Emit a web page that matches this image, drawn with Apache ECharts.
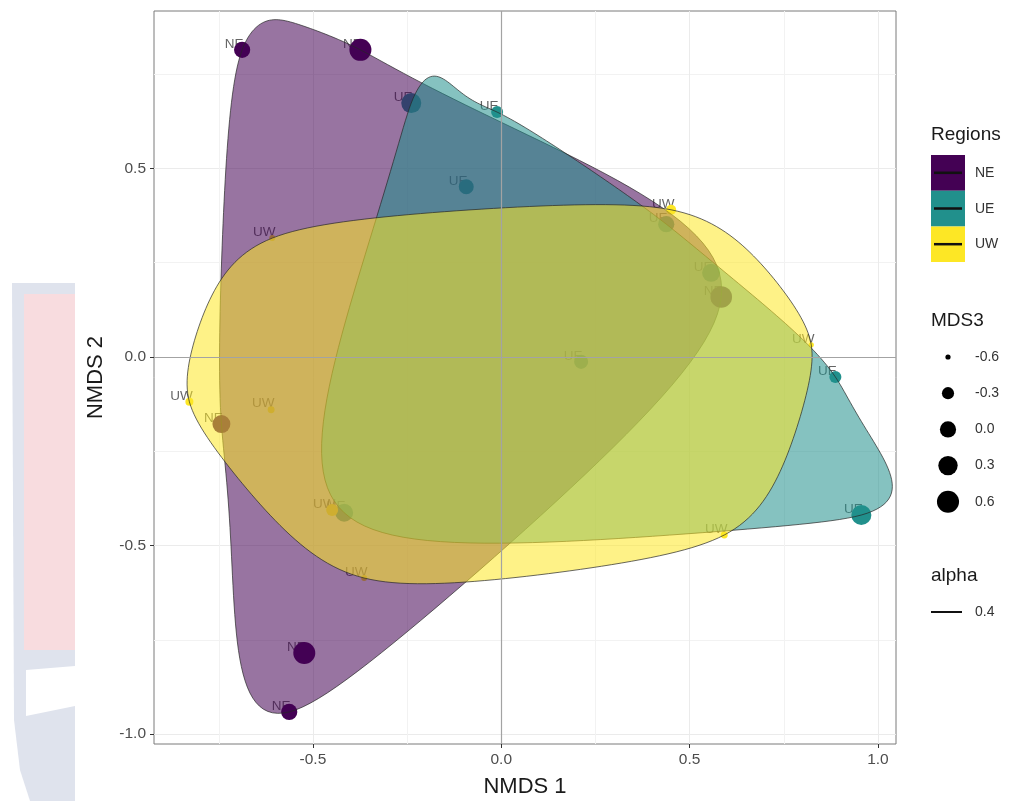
<!DOCTYPE html>
<html>
<head>
<meta charset="utf-8">
<script src="https://cdn.jsdelivr.net/npm/echarts/dist/echarts.min.js"></script>
<style>
  html, body { margin: 0; padding: 0; background: #ffffff; }
  #chart { width: 1019px; height: 801px; }
</style>
</head>
<body>
<div id="chart"></div>
<script>
// ---- data: NMDS site scores by region (MDS3 mapped to point size) ----
const regions = ['NE', 'UE', 'UW'];
const regionColors = ['#440154', '#21908C', '#FDE725'];

const neX    = [-0.688, -0.374, -0.743, -0.523, -0.563, 0.584];
const neY    = [ 0.814,  0.814, -0.178, -0.785, -0.941, 0.159];
const neMDS3 = [ 0.00,   0.59,   0.16,   0.59,   0.00,  0.55];

const ueX    = [-0.239, -0.011, -0.093,  0.887,  0.956,  0.212, -0.417, 0.438, 0.557];
const ueY    = [ 0.673,  0.649,  0.451, -0.053, -0.419, -0.013, -0.413, 0.352, 0.223];
const ueMDS3 = [ 0.37,  -0.31,  -0.10,  -0.31,   0.37,  -0.17,   0.16,  0.00,  0.16];

const uwX    = [-0.828, -0.608, 0.451, 0.823,  0.592, -0.364, -0.611, -0.449];
const uwY    = [-0.119,  0.315, 0.390, 0.032, -0.472, -0.586, -0.140, -0.406];
const uwMDS3 = [-0.51,  -0.58, -0.42, -0.60,  -0.55,  -0.58,  -0.55,  -0.31];

const xBreaks = [-0.5, 0.0, 0.5, 1.0];
const yBreaks = [-1.0, -0.5, 0.0, 0.5];
const xMinor  = [-0.75, -0.25, 0.25, 0.75];
const yMinor  = [-0.75, -0.25, 0.25, 0.75];
const sizeBreaks = [-0.6, -0.3, 0.0, 0.3, 0.6];
const alphaBreaks = [0.4];

// ---- scales ----
const xLim = [-0.922, 1.048];
const yLim = [-1.026, 0.917];
const sizeLim = [-0.65, 0.65];
const hullAlpha = 0.55;
const FONT = '"Liberation Sans", Arial, sans-serif';

function pointDiameter(v) {
  const t = Math.max(0, Math.min(1, (v - sizeLim[0]) / (sizeLim[1] - sizeLim[0])));
  return 1 + 21.5 * Math.sqrt(t);
}

const groups = [
  { name: regions[0], x: neX, y: neY, s: neMDS3, color: regionColors[0] },
  { name: regions[1], x: ueX, y: ueY, s: ueMDS3, color: regionColors[1] },
  { name: regions[2], x: uwX, y: uwY, s: uwMDS3, color: regionColors[2] }
];

function rows(g) {
  return g.x.map((v, i) => [v, g.y[i], g.s[i]]);
}

// ---- encircling hull: convex hull + closed interpolating x-spline (shape -0.5) ----
function convexHull(pts) {
  const p = pts.slice().sort((a, b) => a[0] - b[0] || a[1] - b[1]);
  const cross = (o, a, b) => (a[0] - o[0]) * (b[1] - o[1]) - (a[1] - o[1]) * (b[0] - o[0]);
  const lower = [], upper = [];
  for (const q of p) {
    while (lower.length >= 2 && cross(lower[lower.length - 2], lower[lower.length - 1], q) <= 0) lower.pop();
    lower.push(q);
  }
  for (let i = p.length - 1; i >= 0; i--) {
    const q = p[i];
    while (upper.length >= 2 && cross(upper[upper.length - 2], upper[upper.length - 1], q) <= 0) upper.pop();
    upper.push(q);
  }
  upper.pop(); lower.pop();
  return lower.concat(upper);
}
function gBlend(u, q) { return u * (q + u * (2 * q + u * (8 - 12 * q + u * (14 * q - 11 + u * (4 - 5 * q))))); }
function hBlend(u, q) { const u2 = u * u; return u * (q + u * (2 * q + u2 * (-2 * q - u * q))); }
function xsplineClosed(pts, shape, steps) {
  const n = pts.length, q = -shape, out = [];
  for (let k = 0; k < n; k++) {
    const p0 = pts[(k - 1 + n) % n], p1 = pts[k], p2 = pts[(k + 1) % n], p3 = pts[(k + 2) % n];
    for (let j = 0; j < steps; j++) {
      const t = j / steps;
      const a0 = hBlend(-t, q), a2 = gBlend(t, q), a1 = gBlend(1 - t, q), a3 = hBlend(t - 1, q);
      const w = a0 + a1 + a2 + a3;
      out.push([
        (a0 * p0[0] + a1 * p1[0] + a2 * p2[0] + a3 * p3[0]) / w,
        (a0 * p0[1] + a1 * p1[1] + a2 * p2[1] + a3 * p3[1]) / w
      ]);
    }
  }
  return out;
}
function hexToRgba(hex, a) {
  const n = parseInt(hex.slice(1), 16);
  return 'rgba(' + ((n >> 16) & 255) + ',' + ((n >> 8) & 255) + ',' + (n & 255) + ',' + a + ')';
}

// ---- series ----
const series = [];

// reference lines at the origin
series.push({
  type: 'scatter', data: [], z: 1, silent: true,
  markLine: {
    silent: true, symbol: 'none', animation: false,
    label: { show: false },
    lineStyle: { color: '#a3a3a3', width: 1.2, type: 'solid' },
    data: [{ xAxis: 0 }, { yAxis: 0 }]
  }
});

// text labels (drawn beneath the points)
groups.forEach(g => {
  series.push({
    type: 'scatter', name: g.name + '-label', z: 2, silent: true,
    data: rows(g), symbolSize: 1, itemStyle: { color: 'rgba(0,0,0,0)' },
    label: {
      show: true, position: 'inside', offset: [-8, -6],
      formatter: () => g.name, color: '#3d3d3d',
      fontFamily: FONT, fontSize: 13.5
    }
  });
});

// points
groups.forEach(g => {
  series.push({
    type: 'scatter', name: g.name, z: 3,
    data: rows(g),
    symbol: 'circle',
    symbolSize: v => pointDiameter(v[2]),
    itemStyle: { color: g.color, opacity: 1 }
  });
});

// hulls drawn on top, one polygon per region
series.push({
  type: 'custom', z: 4, silent: true,
  coordinateSystem: 'cartesian2d',
  data: groups.map((g, i) => [
    g.x.reduce((a, b) => a + b, 0) / g.x.length,
    g.y.reduce((a, b) => a + b, 0) / g.y.length,
    i
  ]),
  encode: { x: 0, y: 1 },
  clip: false,
  renderItem: function (params, api) {
    const g = groups[api.value(2)];
    const px = g.x.map((v, i) => api.coord([v, g.y[i]]));
    const hull = convexHull(px);
    const curve = xsplineClosed(hull, -0.5, 40);
    return {
      type: 'polygon',
      shape: { points: curve },
      style: { fill: hexToRgba(g.color, hullAlpha), stroke: '#262626', lineWidth: 0.7 }
    };
  }
});

// ---- legends ----
const graphics = [];
// faint backdrop emblem at the far left
graphics.push({ type: 'polygon', z: -10, silent: true,
  shape: { points: [[12, 283], [75, 283], [75, 801], [30, 801], [20, 770], [14, 720]] },
  style: { fill: '#dfe3ed' } });
graphics.push({ type: 'rect', z: -9, silent: true,
  shape: { x: 24, y: 294, width: 51, height: 356 }, style: { fill: '#f8dcdf' } });
graphics.push({ type: 'polygon', z: -9, silent: true,
  shape: { points: [[26, 670], [75, 666], [75, 706], [26, 716]] }, style: { fill: '#ffffff' } });

const legX = 931;
const titleStyle = { fill: '#1a1a1a', fontSize: 19, fontFamily: FONT, textVerticalAlign: 'middle' };
const itemStyle = { fill: '#333333', fontSize: 14, fontFamily: FONT, textVerticalAlign: 'middle' };

graphics.push({ type: 'text', x: legX, y: 135, style: Object.assign({ text: 'Regions' }, titleStyle) });
regions.forEach((r, i) => {
  const y0 = 155 + i * 35.7;
  graphics.push({ type: 'rect', shape: { x: legX, y: y0, width: 34, height: 35.7 }, style: { fill: regionColors[i] } });
  graphics.push({ type: 'line', shape: { x1: legX + 3, y1: y0 + 17.8, x2: legX + 31, y2: y0 + 17.8 }, style: { stroke: '#111111', lineWidth: 2.5 } });
  graphics.push({ type: 'text', x: 975, y: y0 + 18, style: Object.assign({ text: r }, itemStyle) });
});

graphics.push({ type: 'text', x: legX, y: 321, style: Object.assign({ text: 'MDS3' }, titleStyle) });
sizeBreaks.forEach((b, i) => {
  const yc = 357 + i * 36.2;
  graphics.push({ type: 'circle', shape: { cx: 948, cy: yc, r: pointDiameter(b) / 2 }, style: { fill: '#000000' } });
  graphics.push({ type: 'text', x: 975, y: yc, style: Object.assign({ text: b.toFixed(1) }, itemStyle) });
});

graphics.push({ type: 'text', x: legX, y: 576, style: Object.assign({ text: 'alpha' }, titleStyle) });
alphaBreaks.forEach((b, i) => {
  const yc = 612 + i * 36;
  graphics.push({ type: 'line', shape: { x1: legX, y1: yc, x2: legX + 31, y2: yc }, style: { stroke: '#111111', lineWidth: 2 } });
  graphics.push({ type: 'text', x: 975, y: yc, style: Object.assign({ text: b.toFixed(1) }, itemStyle) });
});

// ---- chart ----
const chart = echarts.init(document.getElementById('chart'), null, { renderer: 'canvas' });
const tickLabel = { color: '#4d4d4d', fontSize: 15.5, fontFamily: FONT };
chart.setOption({
  animation: false,
  backgroundColor: '#ffffff',
  grid: {
    left: 154, top: 11, width: 742, height: 733,
    outerBoundsMode: 'none', containLabel: false,
    show: true, borderColor: '#7a7a7a', borderWidth: 1, backgroundColor: 'rgba(0,0,0,0)'
  },
  xAxis: [{
    type: 'value', min: xLim[0], max: xLim[1],
    axisLine: { show: false, onZero: false },
    axisTick: { show: true, customValues: xBreaks, length: 4, lineStyle: { color: '#333333' } },
    axisLabel: { customValues: xBreaks, formatter: v => v.toFixed(1), margin: 8, ...tickLabel },
    splitLine: { show: true, lineStyle: { color: '#ebebeb', width: 1 } },
    name: 'NMDS 1', nameLocation: 'middle', nameGap: 32,
    nameTextStyle: { color: '#1a1a1a', fontSize: 22, fontFamily: FONT }
  }, {
    type: 'value', min: xLim[0], max: xLim[1], position: 'top',
    axisLine: { show: false, onZero: false },
    axisTick: { show: false, customValues: xMinor },
    axisLabel: { show: false, customValues: xMinor },
    splitLine: { show: true, lineStyle: { color: '#f2f2f2', width: 1 } }
  }],
  yAxis: [{
    type: 'value', min: yLim[0], max: yLim[1],
    axisLine: { show: false, onZero: false },
    axisTick: { show: true, customValues: yBreaks, length: 4, lineStyle: { color: '#333333' } },
    axisLabel: { customValues: yBreaks, formatter: v => v.toFixed(1), margin: 8, ...tickLabel },
    splitLine: { show: true, lineStyle: { color: '#ebebeb', width: 1 } },
    name: 'NMDS 2', nameLocation: 'middle', nameGap: 47, nameRotate: 90,
    nameTextStyle: { color: '#1a1a1a', fontSize: 22, fontFamily: FONT }
  }, {
    type: 'value', min: yLim[0], max: yLim[1], position: 'right',
    axisLine: { show: false, onZero: false },
    axisTick: { show: false, customValues: yMinor },
    axisLabel: { show: false, customValues: yMinor },
    splitLine: { show: true, lineStyle: { color: '#f2f2f2', width: 1 } }
  }],
  series: series,
  graphic: graphics
});
</script>
</body>
</html>
